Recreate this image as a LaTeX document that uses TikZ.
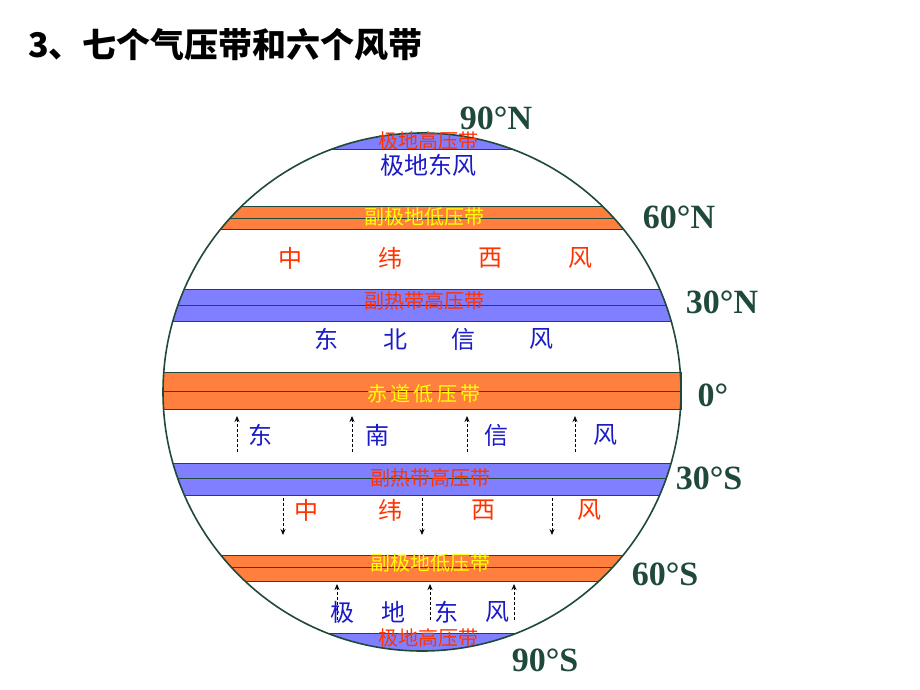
\documentclass[tikz,border=0pt]{standalone}
\usepackage{fontspec}
\setmainfont{Liberation Serif}
\newfontfamily\cjk{Noto Sans CJK SC}
\usetikzlibrary{arrows.meta}
\definecolor{borg}{HTML}{FF7F3F}
\definecolor{bblu}{HTML}{7F7FFF}
\definecolor{dgreen}{HTML}{1F4A3A}
\definecolor{tred}{HTML}{FF3300}
\definecolor{tblu}{HTML}{1A1AC8}
\definecolor{tyel}{HTML}{FFFF00}
\tikzset{
  band/.style={draw=dgreen, line width=1pt},
  lat/.style={font=\bfseries\fontsize{34}{34}\selectfont, text=dgreen, inner sep=0},
  bt/.style={font=\cjk\fontsize{20}{20}\selectfont, inner sep=0},
  wt/.style={font=\cjk\fontsize{24}{24}\selectfont, inner sep=0},
  warr/.style={densely dashed, line width=1pt, -{Stealth[length=6pt,width=5pt]}},
}
\begin{document}
\begin{tikzpicture}[x=1pt,y=-1pt]
\useasboundingbox (0,0) rectangle (920,690);
\node[font=\cjk\bfseries\fontsize{34}{34}\selectfont, anchor=west, inner sep=0] (title) at (28,45) {3、七个气压带和六个风带};
\begin{scope}
\clip (422,392) circle (259);
\fill[bblu] (150,100) rectangle (700,149);
\draw[band] (150,149) -- (700,149);
\draw[band, fill=borg] (150,206) rectangle (700,229); \draw[band] (150,218) -- (700,218);
\draw[band, fill=bblu] (150,289) rectangle (700,321); \draw[band] (150,305) -- (700,305);
\draw[band, fill=bblu] (150,463) rectangle (700,495); \draw[band] (150,478) -- (700,478);
\draw[band, fill=borg] (150,555) rectangle (700,581); \draw[band] (150,567) -- (700,567);
\fill[bblu] (150,633) rectangle (700,700);
\draw[band] (150,633) -- (700,633);
\end{scope}
\draw[band, fill=borg] (163,372) rectangle (681,409); \draw[band] (163,391) -- (681,391);
\draw[dgreen, line width=1.6pt] (422,392) circle (259);
% latitude labels
\node[lat] (n90) at (496,118) {90°N};
\node[lat] (n60) at (679,217) {60°N};
\node[lat] (n30) at (722,302) {30°N};
\node[lat] (eq) at (713,395) {0°};
\node[lat] (s30) at (709,478) {30°S};
\node[lat] (s60) at (665,574) {60°S};
\node[lat] (s90) at (545,660) {90°S};
% belt labels
\node[bt, text=tred] (b1) at (428,141) {极地高压带};
\node[bt, text=tyel] (b2) at (424,217) {副极地低压带};
\node[bt, text=tred] (b3) at (424,301) {副热带高压带};
\node[bt, text=tyel] (b4) at (424,394) {赤\,道\,低\,压\,带};
\node[bt, text=tred] (b5) at (430,478) {副热带高压带};
\node[bt, text=tyel] (b6) at (430,563) {副极地低压带};
\node[bt, text=tred] (b7) at (428,638) {极地高压带};
% wind labels
\node[wt, text=tblu] (w1) at (428,165) {极地东风};
\foreach \x/\t in {290/中,390/纬,490/西,580/风} \node[wt, text=tred] at (\x,258) {\t};
\foreach \x/\t in {326/东,395/北,463/信,541/风} \node[wt, text=tblu] at (\x,339) {\t};
\foreach \x/\t in {260/东,377/南,496/信,605/风} \node[wt, text=tblu] at (\x,435) {\t};
\foreach \x/\t in {306/中,390/纬,483/西,589/风} \node[wt, text=tred] at (\x,510) {\t};
\foreach \x/\t in {342/极,393/地,446/东,497/风} \node[wt, text=tblu] at (\x,612) {\t};
% arrows
\foreach \x in {237,352,467,575} {\coordinate (a\x) at (\x,452); \coordinate (c\x) at (\x,416); \draw[warr] (a\x) -- (c\x);}
\foreach \x in {283,422,552} {\coordinate (a\x) at (\x,498); \coordinate (c\x) at (\x,535); \draw[warr] (a\x) -- (c\x);}
\foreach \x in {337,430,514} {\coordinate (a\x) at (\x,620); \coordinate (c\x) at (\x,584); \draw[warr] (a\x) -- (c\x);}
\end{tikzpicture}
\end{document}
